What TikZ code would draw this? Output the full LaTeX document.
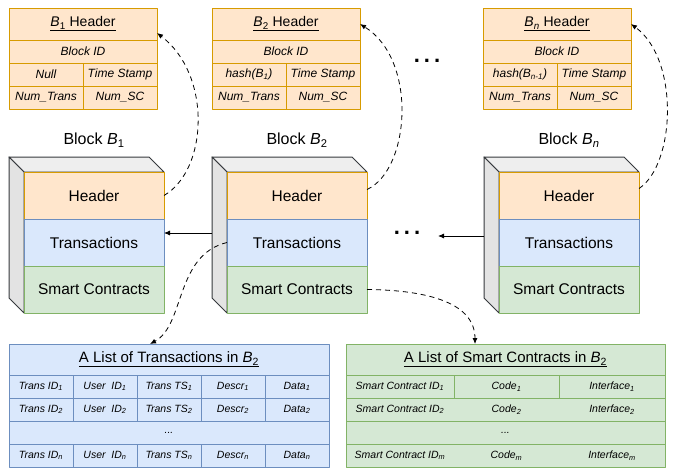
\documentclass[tikz,border=0pt]{standalone}
\usepackage{fontspec}
\setmainfont{Liberation Sans}
\usetikzlibrary{arrows.meta}

\definecolor{hfill}{HTML}{FFE6CC}
\definecolor{hline}{HTML}{D79B00}
\definecolor{tfill}{HTML}{DAE8FC}
\definecolor{tline}{HTML}{6C8EBF}
\definecolor{sfill}{HTML}{D5E8D4}
\definecolor{sline}{HTML}{82B366}
\definecolor{cubetop}{HTML}{EEEEEE}
\definecolor{cubeside}{HTML}{E3E3E3}
\definecolor{cubeline}{HTML}{36393D}

\newcommand{\Bsub}[1]{\textit{B}\textsubscript{#1}}

\begin{document}
\begin{tikzpicture}[x=1pt,y=-1pt,line join=round,
  cell/.style={draw,inner sep=0pt,outer sep=0pt,anchor=north west,line width=.8pt},
  hcell/.style={cell,draw=hline,fill=hfill},
  tcell/.style={cell,draw=tline,fill=tfill},
  scell/.style={cell,draw=sline,fill=sfill},
  cube/.style={draw=cubeline,line width=1pt},
  small/.style={font=\fontsize{10.5}{12}\selectfont\itshape},
  mid/.style={font=\fontsize{12}{14}\selectfont\itshape},
  big/.style={font=\fontsize{15.5}{18}\selectfont},
  heading/.style={font=\fontsize{15}{18}\selectfont},
  gapdots/.style={font=\fontsize{22}{22}\selectfont\bfseries,inner sep=1pt},
  link/.style={-{Latex[length=6pt,width=5pt]},line width=.8pt},
  dlink/.style={link,dash pattern=on 5pt off 4pt}]

\useasboundingbox (0,0) rectangle (673,471);

% Header tables, one per block
\foreach \k/\s/\x/\prev in {1/1/9/Null, 2/2/212/{hash(\Bsub{1})},
                            n/\textit{n}/483/{hash(\Bsub{\textit{n}-1})}}
{
  \node[hcell,minimum width=148,minimum height=32,font=\fontsize{14}{16}\selectfont]
    (hd\k) at (\x,8) {\underline{\Bsub{\s} Header}};
  \node[hcell,mid,minimum width=148,minimum height=23] (id\k) at (hd\k.south west) {Block ID};
  \node[hcell,mid,minimum width=74,minimum height=23] (pv\k) at (id\k.south west) {\prev};
  \node[hcell,mid,minimum width=74,minimum height=23] (ts\k) at (pv\k.north east) {Time Stamp};
  \node[hcell,mid,minimum width=74,minimum height=23] (nt\k) at (pv\k.south west) {Num\_Trans};
  \node[hcell,mid,minimum width=74,minimum height=23] (ns\k) at (nt\k.north east) {Num\_SC};
}
\node[gapdots] (topdots) at (427,61) {.\hspace{4pt}.\hspace{4pt}.};

% Blocks as cubes: top and side faces first, then the three front rows
\foreach \k/\s/\fx in {1/1/24, 2/2/227, n/\textit{n}/499}
{
  \filldraw[cube,fill=cubetop] (\fx-15,157) -- (\fx+125,157) -- (\fx+140,172) -- (\fx,172) -- cycle;
  \filldraw[cube,fill=cubeside] (\fx,172) -- (\fx-15,157) -- (\fx-15,298) -- (\fx,313) -- cycle;
  \node[hcell,big,minimum width=140,minimum height=47] (hb\k) at (\fx,172) {Header};
  \node[tcell,big,minimum width=140,minimum height=47] (tx\k) at (hb\k.south west) {Transactions};
  \node[scell,big,minimum width=140,minimum height=47] (sc\k) at (tx\k.south west) {Smart Contracts};
  \node[font=\fontsize{16}{18}\selectfont] (lb\k) at (\fx+70,140) {Block \Bsub{\s}};
}
\node[gapdots] (middots) at (407,233) {.\hspace{4pt}.\hspace{4pt}.};

% Chain links between blocks
\coordinate (b2side) at (212,233);
\draw[link] (b2side) -- (b2side -| tx1.east);
\coordinate (bnside) at (484,236);
\coordinate (gapend) at (438,236);
\draw[link] (bnside) -- (gapend);

% Each header row points up to its table
\draw[dlink] (hb1.east) .. controls (208,170) and (212,75) .. ([yshift=-9pt]hd1.east);
\draw[dlink] ([yshift=6pt]hb2.east) .. controls (410,170) and (418,60) .. (hd2.east);
\draw[dlink] ([yshift=7pt]hbn.east) .. controls (675,165) and (680,60) .. (hdn.east);

% List of transactions
\node[tcell,heading,minimum width=320,minimum height=31] (tt) at (9,344)
  {\underline{A List of Transactions in \Bsub{2}}};
\foreach \r/\s/\y in {1/1/375, 2/2/398, n/\textit{n}/444}
  \foreach \c/\txt in {1/Trans ID, 2/User\ \ ID, 3/Trans TS, 4/Descr, 5/Data}
    \node[tcell,small,minimum width=64,minimum height=23] (tr\r-\c) at (9+64*\c-64,\y)
      {\txt\textsubscript{\s}};
\node[tcell,small,minimum width=320,minimum height=23] (trdots) at (9,421) {...};

% List of smart contracts
\node[scell,heading,minimum width=319,minimum height=31] (st) at (346,344)
  {\underline{A List of Smart Contracts in \Bsub{2}}};
\node[scell,small,minimum width=108,minimum height=23] (sr1-1) at (346,375) {Smart Contract ID\textsubscript{1}};
\node[scell,small,minimum width=105,minimum height=23] (sr1-2) at (454,375) {Code\textsubscript{1}};
\node[scell,small,minimum width=106,minimum height=23] (sr1-3) at (559,375) {Interface\textsubscript{1}};
% lower rows run the full width, no column rules
\foreach \r/\y in {2/398, dots/421, m/444}
  \node[scell,minimum width=319,minimum height=23] (sr\r) at (346,\y) {};
\node[small] (srgap) at (srdots) {...};
\foreach \r/\s in {2/2, m/\textit{m}}
{
  \node[small] (sr\r-1) at (sr1-1 |- sr\r) {Smart Contract ID\textsubscript{\s}};
  \node[small] (sr\r-2) at (sr1-2 |- sr\r) {Code\textsubscript{\s}};
  \node[small] (sr\r-3) at (sr1-3 |- sr\r) {Interface\textsubscript{\s}};
}

% Block B2's lists
\draw[dlink] (tx2.west) .. controls (175,255) and (185,325) .. ([xshift=-19pt]tt.north);
\draw[dlink] (sc2.east) .. controls (420,290) and (475,300) .. ([xshift=-30.5pt]st.north);
\end{tikzpicture}
\end{document}
